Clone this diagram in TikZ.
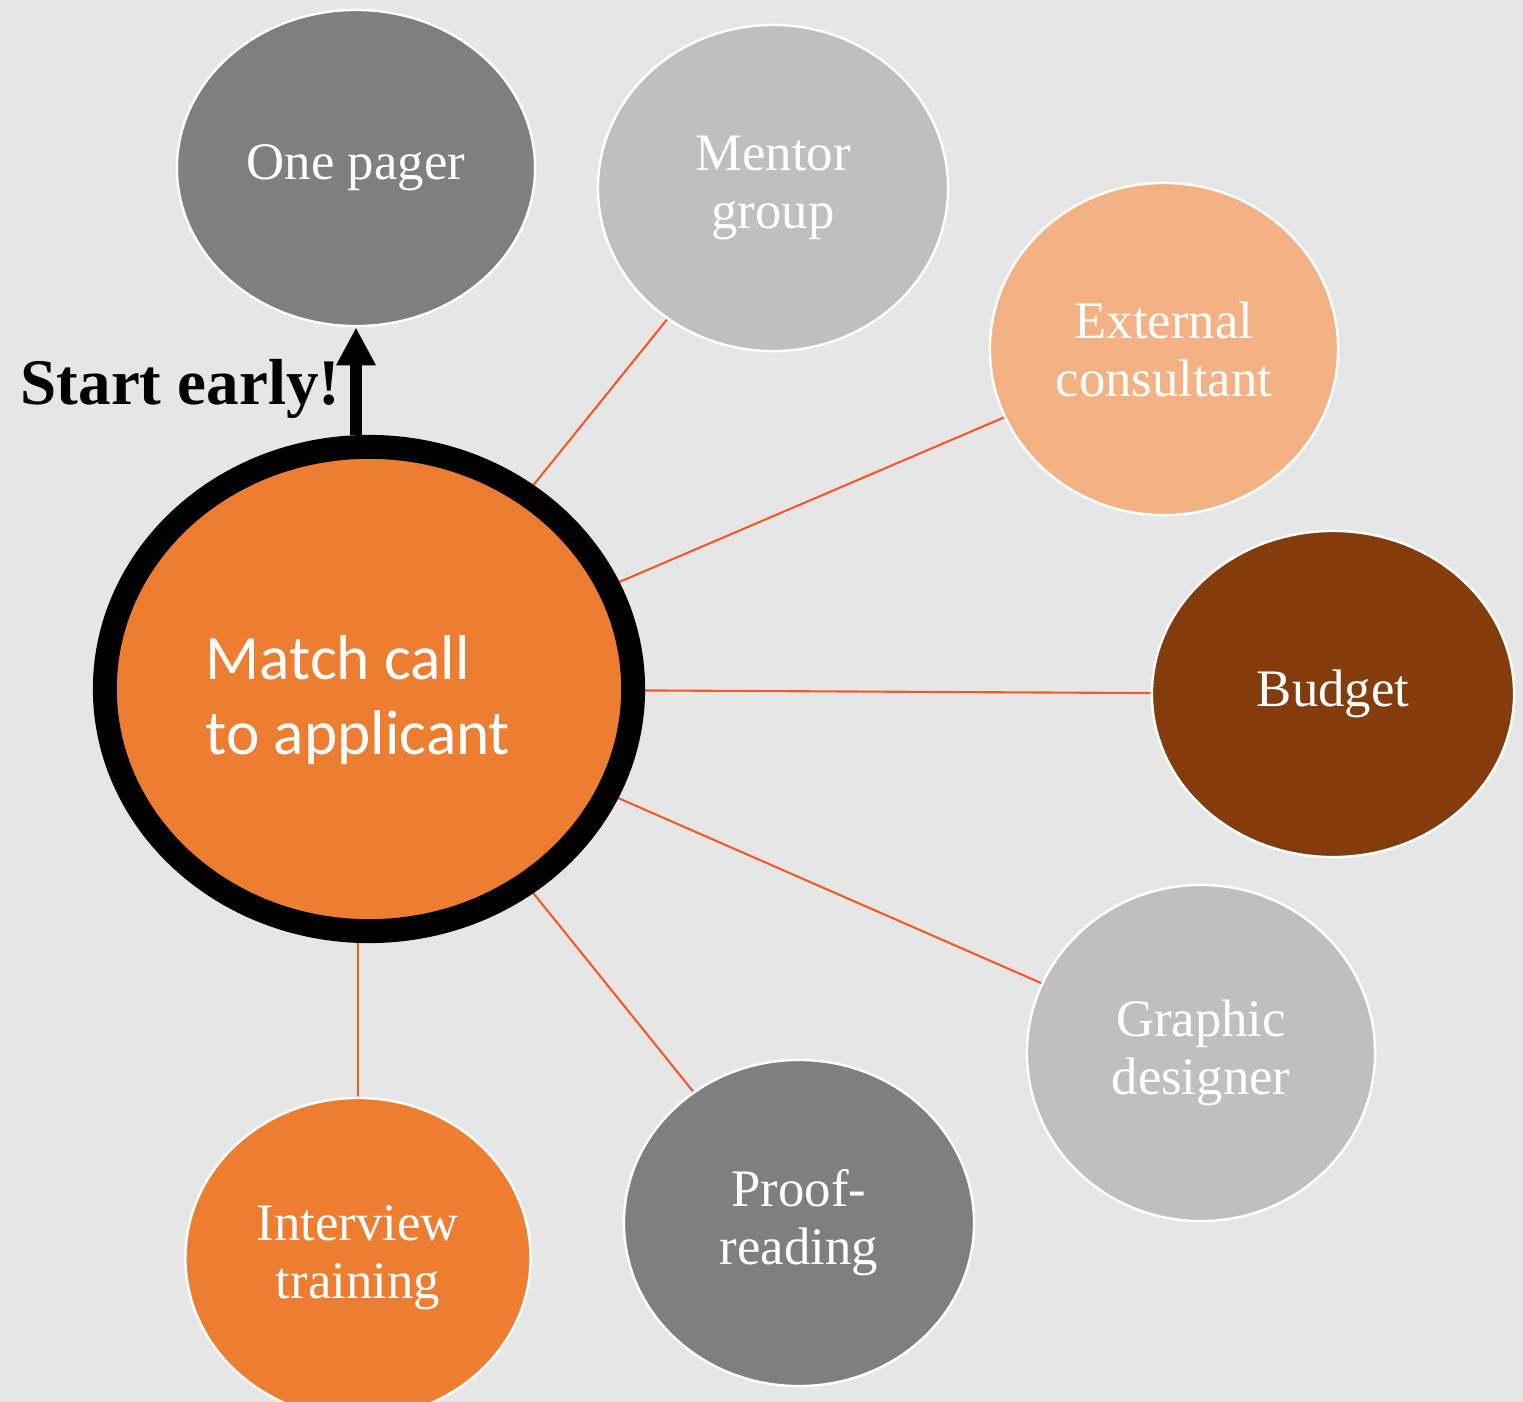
\documentclass[tikz,border=0pt]{standalone}
\usepackage{fontspec}
\setmainfont{Liberation Serif}
\newfontfamily\calibrifont{Carlito}
\usetikzlibrary{shapes.geometric,arrows.meta,backgrounds}
\definecolor{bgc}{HTML}{E7E6E6}
\definecolor{mainorange}{HTML}{ED7D31}
\definecolor{gray7f}{HTML}{7F7F7F}
\definecolor{graybf}{HTML}{BFBFBF}
\definecolor{peach}{HTML}{F4B183}
\definecolor{brown84}{HTML}{843C0C}
\definecolor{linec}{HTML}{F05A28}
\begin{document}
\begin{tikzpicture}[x=0.01cm,y=-0.01cm,
  sat/.style={ellipse,draw=white,line width=0.7pt,inner sep=0pt,text=white,align=center,
    font=\fontsize{15pt}{16.5pt}\selectfont},
  link/.style={draw=linec,line width=0.6pt},
  ring/.style={ellipse,draw=black,line width=6.8pt,fill=mainorange,inner sep=0pt},
  maintxt/.style={text=white,align=left,inner sep=0pt,font=\calibrifont\fontsize{18pt}{21.3pt}\selectfont},
  starttxt/.style={inner sep=0pt,anchor=base west,font=\bfseries\fontsize{18.5pt}{20pt}\selectfont},
  bigarrow/.style={draw=black,line width=3.4pt,-{Triangle[width=0.37cm,length=0.38cm]}}]
\useasboundingbox (0,0) rectangle (1523,1402);
% nodes
\node[ring,minimum width=5.28cm,minimum height=4.84cm] (main) at (369,689) {};
\node[maintxt] (maintext) at (358,700) {Match call\\to applicant};
\node[sat,fill=gray7f,minimum width=3.58cm,minimum height=3.16cm] (onepager) at (356,168) {One pager};
\node[sat,fill=graybf,minimum width=3.50cm,minimum height=3.26cm] (mentor) at (773,188) {Mentor\\group};
\node[sat,fill=peach,minimum width=3.48cm,minimum height=3.32cm] (external) at (1164,349) {External\\consultant};
\node[sat,fill=brown84,minimum width=3.62cm,minimum height=3.26cm] (budget) at (1333,694) {Budget};
\node[sat,fill=graybf,minimum width=3.48cm,minimum height=3.36cm] (graphic) at (1201,1053) {Graphic\\designer};
\node[sat,fill=gray7f,minimum width=3.50cm,minimum height=3.26cm] (proof) at (799,1223) {Proof-\\reading};
\node[sat,fill=mainorange,minimum width=3.45cm,minimum height=3.20cm] (interview) at (358,1258) {Interview\\training};
\node[starttxt] (start) at (20,404) {Start early!};
\draw[bigarrow] (onepager.south |- main.north) -- (onepager.south);
% background and connectors
\begin{scope}[on background layer]
  \fill[bgc] (0,0) rectangle (1523,1402);
  \draw[link] (main) -- (mentor);
  \draw[link] (main) -- (external);
  \draw[link] (main) -- (budget);
  \draw[link] (main) -- (graphic);
  \draw[link] (main) -- (proof);
  \draw[link] (main.south -| interview.north) -- (interview.north);
\end{scope}
\end{tikzpicture}
\end{document}
